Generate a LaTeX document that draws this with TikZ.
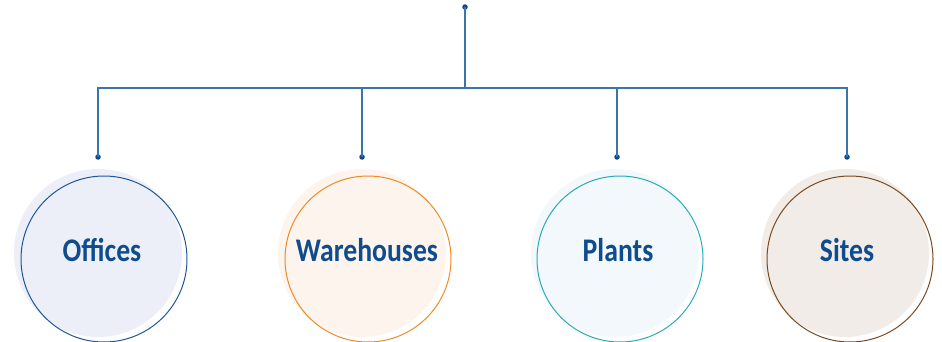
\documentclass[tikz,border=0pt]{standalone}
\usepackage{fontspec}
\setmainfont{Carlito}
\newfontfamily\labelfont{Carlito}[FakeStretch=0.84]
\begin{document}
\definecolor{linkblue}{HTML}{3A75AA}
\definecolor{dotblue}{HTML}{0D4A8A}
\definecolor{labelblue}{HTML}{0F4C8D}
\definecolor{offline}{HTML}{1E5798}
\definecolor{offfill}{HTML}{ECEFF7}
\definecolor{warline}{HTML}{F08A24}
\definecolor{warfill}{HTML}{FDF4EE}
\definecolor{plaline}{HTML}{2AAAB8}
\definecolor{plafill}{HTML}{F2F8FB}
\definecolor{sitline}{HTML}{7A4A1E}
\definecolor{sitfill}{HTML}{F1ECE8}
\begin{tikzpicture}[x=1pt,y=-1pt,
  link/.style={draw=linkblue,line width=2pt},
  pin/.style={circle,fill=dotblue,inner sep=0pt,minimum size=5.5pt},
  disc/.style={circle,inner sep=0pt,minimum size=168pt},
  ring/.style={circle,draw,line width=1pt,inner sep=0pt,minimum size=166pt},
  label/.style={anchor=base,text=labelblue,font=\labelfont\bfseries\fontsize{33}{36}\selectfont}]
\useasboundingbox (0,0) rectangle (942,342);

% background discs
\node[disc,fill=offfill] (d1) at (98,253) {};
\node[disc,fill=warfill] (d2) at (362,253) {};
\node[disc,fill=plafill] (d3) at (615,253) {};
\node[disc,fill=sitfill] (d4) at (845,253) {};

% outlined rings, shifted down-right
\node[ring,draw=offline] (r1) at (104,259) {};
\node[ring,draw=warline] (r2) at (368,259) {};
\node[ring,draw=plaline] (r3) at (620,259) {};
\node[ring,draw=sitline] (r4) at (850,259) {};

% labels
\node[label] (t1) at (102,261) {Offices};
\node[label] (t2) at (367,261) {Warehouses};
\node[label] (t3) at (618,261) {Plants};
\node[label] (t4) at (847,261) {Sites};

% connector tree
\coordinate (j0) at (465,88);
\coordinate (j1) at (98,88);
\coordinate (j2) at (362,88);
\coordinate (j3) at (617,88);
\coordinate (j4) at (847,88);
\node[pin] (top) at (465,7) {};
\node[pin] (p1) at (98,157) {};
\node[pin] (p2) at (362,157) {};
\node[pin] (p3) at (617,157) {};
\node[pin] (p4) at (847,157) {};
\draw[link] (top.center) -- (j0);
\draw[link] (p1.center) -- (j1) -- (j4) -- (p4.center);
\draw[link] (j2) -- (p2.center);
\draw[link] (j3) -- (p3.center);
\end{tikzpicture}
\end{document}
